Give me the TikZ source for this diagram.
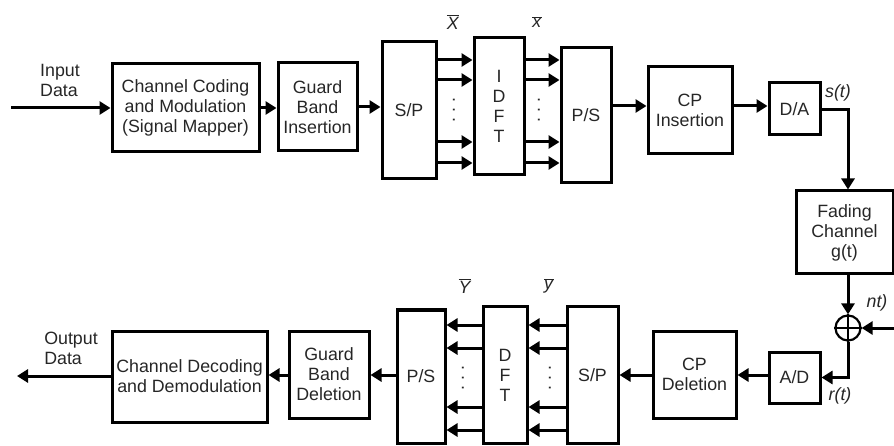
\documentclass[tikz,border=0pt]{standalone}
\usepackage{fontspec}
\setmainfont{Liberation Sans}
\usetikzlibrary{arrows.meta,calc}

\newcommand{\barsym}[1]{$\overline{\mbox{\textit{#1}}}$}

\begin{document}
\begin{tikzpicture}[x=1pt,y=-1pt,
    font=\fontsize{17.8}{20}\selectfont,
    blk/.style={draw,line width=3pt,inner sep=0pt,align=center,text=black!85},
    arr/.style={line width=3pt,-{Triangle[length=11pt,width=13pt]}},
    lbl/.style={inner sep=0pt,text=black!85},
    dts/.style={rotate=90,inner sep=0pt,text=black!85}]
    \useasboundingbox (0,0) rectangle (894,446);
    % transmitter
    \node[blk,minimum width=147,minimum height=88] (ccm) at (185.5,108) {Channel Coding\\and Modulation\\(Signal Mapper)};
    \node[blk,minimum width=79,minimum height=88] (gbi) at (317.5,107) {Guard\\Band\\Insertion};
    \node[blk,minimum width=54,minimum height=137] (sp) at (409,110.5) {S/P};
    \node[blk,minimum width=50,minimum height=137] (idft) at (499,106.5) {I\\D\\F\\T};
    \node[blk,minimum width=50,minimum height=135] (ps) at (586,115.5) {P/S};
    \node[blk,minimum width=84,minimum height=87] (cpi) at (690,110.5) {CP\\Insertion};
    \node[blk,minimum width=51,minimum height=52] (da) at (794.5,109) {D/A};
    % channel
    \node[blk,minimum width=97,minimum height=83] (fad) at (844.5,232.5) {Fading\\Channel\\g(t)};
    \node[draw,circle,line width=2.2pt,minimum size=25,inner sep=0pt] (sum) at (848,328) {};
    \draw[line width=2.2pt] (sum.north) -- (sum.south) (sum.west) -- (sum.east);
    % receiver
    \node[blk,minimum width=51,minimum height=51] (ad) at (794.5,377.5) {A/D};
    \node[blk,minimum width=83,minimum height=87] (cpd) at (694.5,374.5) {CP\\Deletion};
    \node[blk,minimum width=51,minimum height=136] (sp2) at (592.5,375) {S/P};
    \node[blk,minimum width=44,minimum height=136] (dft) at (505,375) {D\\F\\T};
    \node[blk,minimum width=48,minimum height=133] (ps2) at (421,376.5) {P/S};
    \node[blk,minimum width=80,minimum height=87] (gbd) at (329,374.5) {Guard\\Band\\Deletion};
    \node[blk,minimum width=155,minimum height=91] (cdd) at (189.5,376.5) {Channel Decoding\\and Demodulation};
    % labels
    \node[lbl,align=left] (inlbl) at (60,80) {Input\\Data};
    \node[lbl,align=left] (outlbl) at (71,348) {Output\\Data};
    \node[lbl] (xf) at (453,22) {\barsym{X}};
    \node[lbl] (xt) at (537,22) {\barsym{x}};
    \node[lbl] (yf) at (465,286) {\barsym{Y}};
    \node[lbl] (yt) at (549,286) {\barsym{y}};
    \node[lbl] (st) at (838,93) {\textit{s(t)}};
    \node[lbl] (nt) at (877,303) {\textit{nt)}};
    \node[lbl] (rt) at (840,396) {\textit{r(t)}};
    \node[dts] (d1) at (454,110) {.\hspace{5pt}.\hspace{5pt}.};
    \node[dts] (d2) at (539,110) {.\hspace{5pt}.\hspace{5pt}.};
    \node[dts] (d3) at (463,378) {.\hspace{5pt}.\hspace{5pt}.};
    \node[dts] (d4) at (550,378) {.\hspace{5pt}.\hspace{5pt}.};
    \coordinate (din) at (11,108);
    \coordinate (nin) at (894,328);
    \coordinate (dout) at (17,376);
    % connectors
    \draw[arr] (din) -- (ccm.west);
    \draw[arr] (ccm.east) -- (ccm.east -| gbi.west);
    \draw[arr] (gbi.east) -- (gbi.east -| sp.west);
    \foreach \y in {60,80,142,163} {
        \draw[arr] (sp.east |- 0,\y) -- (idft.west |- 0,\y);
        \draw[arr] (idft.east |- 0,\y) -- (ps.west |- 0,\y);
    }
    \draw[arr] (ps.east |- 0,106) -- (cpi.west |- 0,106);
    \draw[arr] (cpi.east |- 0,106) -- (da.west |- 0,106);
    \draw[arr] (da.east |- 0,110) -| (sum |- fad.north);
    \draw[arr] (sum |- fad.south) -- (sum.north);
    \draw[arr] (nin) -- (sum.east);
    \draw[arr] (sum.south) |- (ad.east);
    \draw[arr] (ad.west |- 0,375) -- (cpd.east |- 0,375);
    \draw[arr] (cpd.west |- 0,375) -- (sp2.east |- 0,375);
    \foreach \y in {325,348,407,430} {
        \draw[arr] (sp2.west |- 0,\y) -- (dft.east |- 0,\y);
        \draw[arr] (dft.west |- 0,\y) -- (ps2.east |- 0,\y);
    }
    \draw[arr] (ps2.west |- 0,375) -- (gbd.east |- 0,375);
    \draw[arr] (gbd.west |- 0,375) -- (cdd.east |- 0,375);
    \draw[arr] (cdd.west |- dout) -- (dout);
\end{tikzpicture}
\end{document}
